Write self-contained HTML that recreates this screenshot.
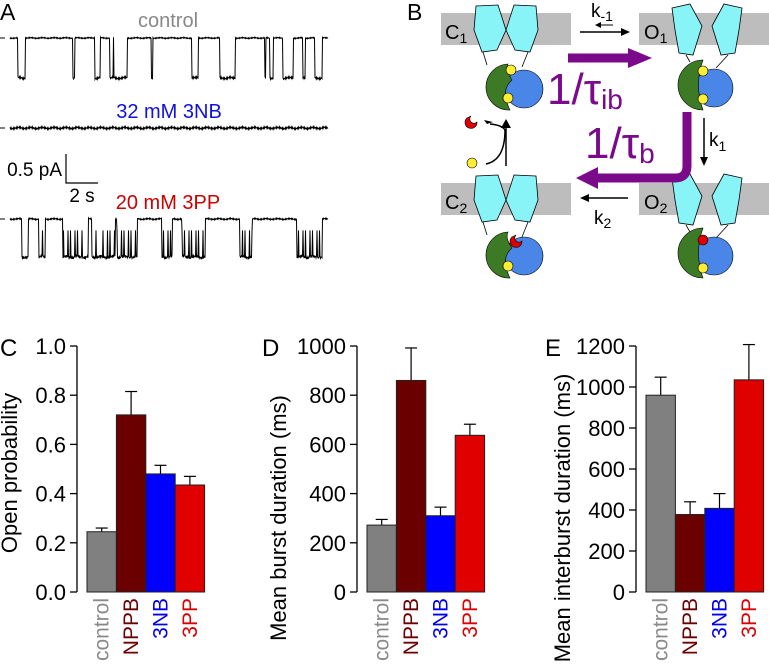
<!DOCTYPE html>
<html><head><meta charset="utf-8"><style>
html,body{margin:0;padding:0;background:#fff;}
svg{display:block;font-family:"Liberation Sans",Arial,sans-serif;}
</style></head><body>
<svg id="fig" width="769" height="664" viewBox="0 0 769 664">
<!-- Panel A -->
<g>
<text x="0" y="20" font-size="23">A</text>
<text x="168" y="27" font-size="20" fill="#888" text-anchor="middle">control</text>
<text x="169" y="118" font-size="20" fill="#1010e0" text-anchor="middle">32 mM 3NB</text>
<text x="168" y="209" font-size="20" fill="#cc0000" text-anchor="middle">20 mM 3PP</text>
<text x="62" y="176" font-size="19" text-anchor="end">0.5 pA</text>
<text x="82" y="202" font-size="19" text-anchor="middle">2 s</text>
<path d="M66,154 V183 H98" fill="none" stroke="#000" stroke-width="1.2"/>
<line x1="0" y1="38" x2="5" y2="38" stroke="#000"/>
<line x1="0" y1="128" x2="5" y2="128" stroke="#000"/>
<line x1="0" y1="219" x2="5" y2="219" stroke="#000"/>
<g id="traces"></g>
</g>
<!-- Panel B -->
<g>
<text x="407" y="20" font-size="23">B</text>
<rect x="441" y="13" width="130" height="32" fill="#bdbdbd"/>
<rect x="639" y="13" width="130" height="32" fill="#bdbdbd"/>
<rect x="441" y="183" width="130" height="32" fill="#bdbdbd"/>
<rect x="639" y="183" width="130" height="32" fill="#bdbdbd"/>
<text x="445" y="39" font-size="20">C<tspan font-size="14" dy="4">1</tspan></text>
<text x="644" y="39" font-size="20">O<tspan font-size="14" dy="4">1</tspan></text>
<text x="445" y="209" font-size="20">C<tspan font-size="14" dy="4">2</tspan></text>
<text x="644" y="209" font-size="20">O<tspan font-size="14" dy="4">2</tspan></text>
<g stroke="#000" stroke-width="0.8" fill="#88f4f8">
<polygon points="476,6 498,5 506,30 497,50 482,52 474,30"/>
<polygon points="514,5 536,6 538,30 530,52 515,50 506,30"/>
<polygon points="476,176 498,175 506,200 497,220 482,222 474,200"/>
<polygon points="514,175 536,176 538,200 530,222 515,220 506,200"/>
<polygon points="672,8 690,4 702,26 693,55 679,53 675,30"/>
<polygon points="712,26 724,4 742,8 739,30 735,53 721,55"/>
<polygon points="672,178 690,174 702,196 693,225 679,223 675,200"/>
<polygon points="712,196 724,174 742,178 739,200 735,223 721,225"/>
</g>
<g stroke="#000" stroke-width="0.8">
<line x1="483" y1="52" x2="487" y2="65"/><line x1="528" y1="52" x2="522" y2="67"/>
<line x1="483" y1="222" x2="487" y2="235"/><line x1="528" y1="222" x2="522" y2="237"/>
<line x1="686" y1="55" x2="690" y2="62"/><line x1="728" y1="55" x2="716" y2="68"/>
<line x1="686" y1="225" x2="690" y2="232"/><line x1="728" y1="225" x2="716" y2="238"/>
</g>
<g stroke="#000" stroke-width="0.6">
<circle cx="524" cy="89" r="19" fill="#4a86e8"/>
<path d="M508,64 A22,22 0 1 0 510,110 Q500,90 512,80 Q505,70 508,64Z" fill="#3c7a25"/>
<circle cx="511" cy="70" r="5" fill="#ffee33"/><circle cx="508" cy="98" r="5" fill="#ffee33"/>
<circle cx="714" cy="88" r="19" fill="#4a86e8"/>
<path d="M703,60 A22,22 0 1 0 703,110 Q694,85 703,60Z" fill="#3c7a25"/>
<circle cx="703" cy="71" r="5" fill="#ffee33"/><circle cx="703" cy="99" r="5" fill="#ffee33"/>
<circle cx="524" cy="256" r="19" fill="#4a86e8"/>
<path d="M508,232 A22,22 0 1 0 510,278 Q500,258 512,248 Q505,238 508,232Z" fill="#3c7a25"/>
<path d="M512,237 a6,6 0 1 0 10,4 a4,4 0 0 1 -6,-6 z" fill="#dd0000"/><circle cx="508" cy="266" r="5" fill="#ffee33"/>
<circle cx="714" cy="256" r="19" fill="#4a86e8"/>
<path d="M703,228 A22,22 0 1 0 703,278 Q694,253 703,228Z" fill="#3c7a25"/>
<circle cx="703" cy="240" r="5" fill="#dd0000"/><circle cx="703" cy="268" r="5" fill="#ffee33"/>
<path d="M467,118 a6,6 0 1 0 10,4 a4,4 0 0 1 -6,-6 z" fill="#dd0000"/>
<circle cx="472" cy="163" r="5" fill="#ffee33"/>
</g>
<path d="M486,164 Q505,160 505,130" fill="none" stroke="#000" stroke-width="1.5"/>
<path d="M487,124 l-3,-4 l9,2 z" fill="#000"/>
<path d="M505,130 Q502,125 490,124" fill="none" stroke="#000" stroke-width="1.5"/>
<line x1="506" y1="166" x2="506" y2="126" stroke="#000" stroke-width="1.5"/>
<path d="M501,128 L506,119 L511,128 Z" fill="#000"/>
<line x1="580" y1="32" x2="622" y2="32" stroke="#000" stroke-width="1.5"/><path d="M621,28 L630,32 L621,36Z" fill="#000"/>
<line x1="600" y1="25" x2="613" y2="25" stroke="#000" stroke-width="1"/><path d="M601,22 L595,25 L601,28Z" fill="#000"/>
<text x="591" y="17" font-size="19">k<tspan font-size="14" dy="4">-1</tspan></text>
<line x1="704" y1="118" x2="704" y2="158" stroke="#000" stroke-width="1.5"/><path d="M700,157 L704,166 L708,157Z" fill="#000"/>
<text x="709" y="146" font-size="19">k<tspan font-size="14" dy="5">1</tspan></text>
<line x1="588" y1="198" x2="628" y2="198" stroke="#000" stroke-width="1.5"/><path d="M589,194 L580,198 L589,202Z" fill="#000"/>
<text x="594" y="224" font-size="19">k<tspan font-size="14" dy="4">2</tspan></text>
<path d="M568,58 H630" stroke="#7a0a8a" stroke-width="9" fill="none"/><path d="M628,48 L652,58 L628,68Z" fill="#7a0a8a"/>
<path d="M687,112 V166 Q687,178 675,178 H596" stroke="#7a0a8a" stroke-width="9" fill="none"/><path d="M598,167 L576,178 L598,189Z" fill="#7a0a8a"/>
<text x="547" y="104" font-size="44" fill="#7a0a8a">1/τ<tspan font-size="28" dy="5">ib</tspan></text>
<text x="585" y="158" font-size="44" fill="#7a0a8a">1/τ<tspan font-size="28" dy="5">b</tspan></text>
</g>
<g id="charts"></g>
</svg>
<script>
// ---- Bar chart data ----
const categories = ["control", "NPPB", "3NB", "3PP"];
const openProb = [0.245, 0.72, 0.48, 0.435];
const openProbErr = [0.015, 0.095, 0.035, 0.035];
const burstDur = [272, 860, 310, 637];
const burstDurErr = [23, 132, 35, 45];
const interburstDur = [960, 378, 408, 1035];
const interburstDurErr = [88, 62, 72, 172];
const ticksC = [0, 0.2, 0.4, 0.6, 0.8, 1.0];
const ticksD = [0, 200, 400, 600, 800, 1000];
const ticksE = [0, 200, 400, 600, 800, 1000, 1200];
const tickLabelsC = ["0.0", "0.2", "0.4", "0.6", "0.8", "1.0"];
const tickLabelsD = ["0", "200", "400", "600", "800", "1000"];
const tickLabelsE = ["0", "200", "400", "600", "800", "1000", "1200"];

const NS = "http://www.w3.org/2000/svg";
const barFill = ["#808080", "#6b0000", "#0000ff", "#e00000"];
const labFill = ["#8a8a8a", "#6b0000", "#0000ee", "#dd0000"];
function mk(tag, attrs, parent) {
  const e = document.createElementNS(NS, tag);
  for (const k in attrs) e.setAttribute(k, attrs[k]);
  parent.appendChild(e);
  return e;
}
const charts = document.getElementById("charts");
function chart(id, letter, letterX, axisX, vals, errs, ticks, tickLabels, title, titleX, titleY) {
  const g = mk("g", {}, charts);
  
  
  const top = 346, bot = 592, vmax = ticks[ticks.length - 1];
  const y = v => bot - (v / vmax) * (bot - top);
  const bw = 29.4, x0 = axisX + 10;
  const x = i => x0 + i * bw;
  const pl = mk("text", {x: letterX, y: 356, "font-size": 24}, g);
  pl.textContent = letter;
  
  
  const ax = mk("line", {x1: axisX, y1: top, x2: axisX, y2: bot, stroke: "#000", "stroke-width": 1.3}, g);
  
  
  ticks.forEach((t, i) => {
    const tk = mk("line", {x1: axisX - 7, y1: y(t), x2: axisX, y2: y(t), stroke: "#000", "stroke-width": 1.3}, g);
    
    
    const tl = mk("text", {x: axisX - 11, y: y(t) + 8, "font-size": 22, "text-anchor": "end"}, g);
    tl.textContent = tickLabels[i];
    
    
  });
  const tt = mk("text", {x: 0, y: 0, "font-size": 22, "text-anchor": "middle", transform: `translate(${titleX},${titleY}) rotate(-90)`}, g);
  tt.textContent = title;
  
  
  vals.forEach((v, i) => {
    const cx = x(i) + bw / 2;
    const ev = v + errs[i];
    const el = mk("line", {x1: cx, y1: y(v), x2: cx, y2: y(ev), stroke: "#000", "stroke-width": 1.2}, g);
    
    
    const cap = mk("line", {x1: cx - 6, y1: y(ev), x2: cx + 6, y2: y(ev), stroke: "#000", "stroke-width": 1.2}, g);
    
    
    const r = mk("rect", {x: x(i), y: y(v), width: bw, height: bot - y(v), fill: barFill[i], stroke: "#222", "stroke-width": 1}, g);
    
    
    const cl = mk("text", {x: 0, y: 0, "font-size": 21, "text-anchor": "end", fill: labFill[i], transform: `translate(${cx + 7},598) rotate(-90)`}, g);
    cl.textContent = categories[i];
    
    
  });
}
chart("c", "C", 0, 77, openProb, openProbErr, ticksC, tickLabelsC, "Open probability", 17, 473);
chart("d", "D", 262, 357, burstDur, burstDurErr, ticksD, tickLabelsD, "Mean burst duration (ms)", 286, 518);
chart("e", "E", 545, 636, interburstDur, interburstDurErr, ticksE, tickLabelsE, "Mean interburst duration (ms)", 570, 518);

// ---- Single-channel trace illustrations (open intervals in px along the trace) ----
const controlOpen = [[18,25],[73,74.5],[95,100],[110,113],[114,127],[151.5,152.5],[192,198],[220,235],[265,265.8],[270,273],[283,293],[303,305],[315,322]];
const pp3Open = [[22,28],[39,45],[63,88],[92,115],[117,137],[162,172],[182,205],[240,252],[297,322]];
const traces = document.getElementById("traces");
function trace(name, base, amp, opens, noise, flick) {
  let d = "";
  for (let px = 10; px <= 328; px += 0.5) {
    const open = opens.some(o => px >= o[0] && px <= o[1]);
    let yv = base + (open ? amp : 0);
    yv += noise * (Math.sin(px * 7.3) * 0.6 + Math.sin(px * 13.1 + 1) * 0.4) * (open ? 2 : 1);
    if (open && flick && Math.sin(px * 2.7) > 0.93) yv = base + amp * 0.3;
    d += (d ? "L" : "M") + px.toFixed(1) + "," + yv.toFixed(1);
  }
  const p = mk("path", {d: d, fill: "none", stroke: "#000", "stroke-width": 1}, traces);
  
  
}
trace("control-trace", 38, 40, controlOpen, 0.8, false);
trace("3nb-trace", 128, 0, [], 1.5, false);
trace("3pp-trace", 219, 38, pp3Open, 1, true);
</script>
</body></html>
